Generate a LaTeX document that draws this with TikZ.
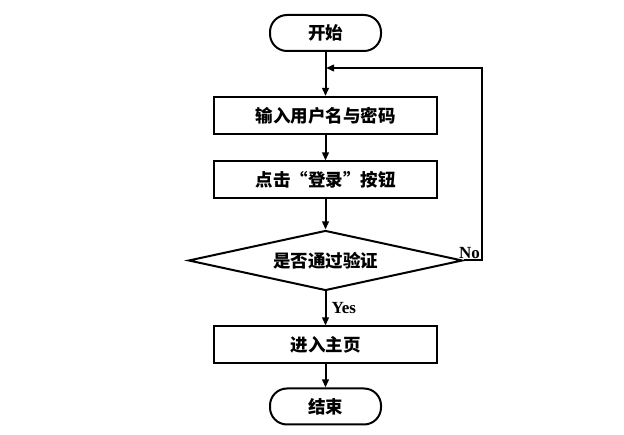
\documentclass[tikz,border=0pt]{standalone}
\usepackage{fontspec}
\newfontfamily\cjk{Noto Sans CJK SC}
\newfontfamily\latinlbl{Liberation Serif}
\usetikzlibrary{arrows.meta,shapes.geometric,positioning}
\begin{document}
\begin{tikzpicture}[x=1pt,y=-1pt,
  every node/.style={font=\cjk\bfseries\fontsize{17.5}{19}\selectfont},
  line/.style={line width=2pt},
  flowbox/.style={line, draw, rectangle, minimum width=223pt, minimum height=37pt, inner sep=0pt},
  terminal/.style={line, draw, rectangle, rounded corners=17pt, minimum width=111pt, minimum height=36pt, inner sep=0pt},
  decision/.style={line, draw, diamond, shape aspect=4.6, minimum width=274pt, minimum height=60pt, inner sep=0pt},
  arr/.style={line, -{Triangle[length=8pt,width=6.5pt]}},
  lbl/.style={font=\latinlbl\bfseries\fontsize{17}{18}\selectfont, inner sep=0pt}
]
\useasboundingbox (0,0) rectangle (624,435);
\fill[white] (0,0) rectangle (624,435);

\node[terminal] (start) at (325.5,33) {开始};
\node[flowbox] (b1) at (325.5,115.5) {输入用户名与密码};
\node[flowbox] (b2) at (325.5,180) {点击“登录”按钮};
\node[decision] (d) at (325.5,260.5) {是否通过验证};
\node[flowbox] (b3) at (325.5,345) {进入主页};
\node[terminal] (end) at (325.5,406.5) {结束};

\coordinate (fbr) at (482,260.5);
\coordinate (fbt) at (482,68);
\coordinate (fbl) at (326,68);

\draw[arr] (start.south) -- (b1.north);
\draw[arr] (b1.south) -- (b2.north);
\draw[arr] (b2.south) -- (d.north);
\draw[arr] (d.south) -- node[lbl, right=5pt, pos=0.5] (yes) {Yes} (b3.north);
\draw[arr] (d.east) -- (fbr) -- (fbt) -- (fbl);
\draw[arr] (b3.south) -- (end.north);
\node[lbl, anchor=south east] (no) at ([xshift=-2pt,yshift=2pt]fbr) {No};
\end{tikzpicture}
\end{document}
